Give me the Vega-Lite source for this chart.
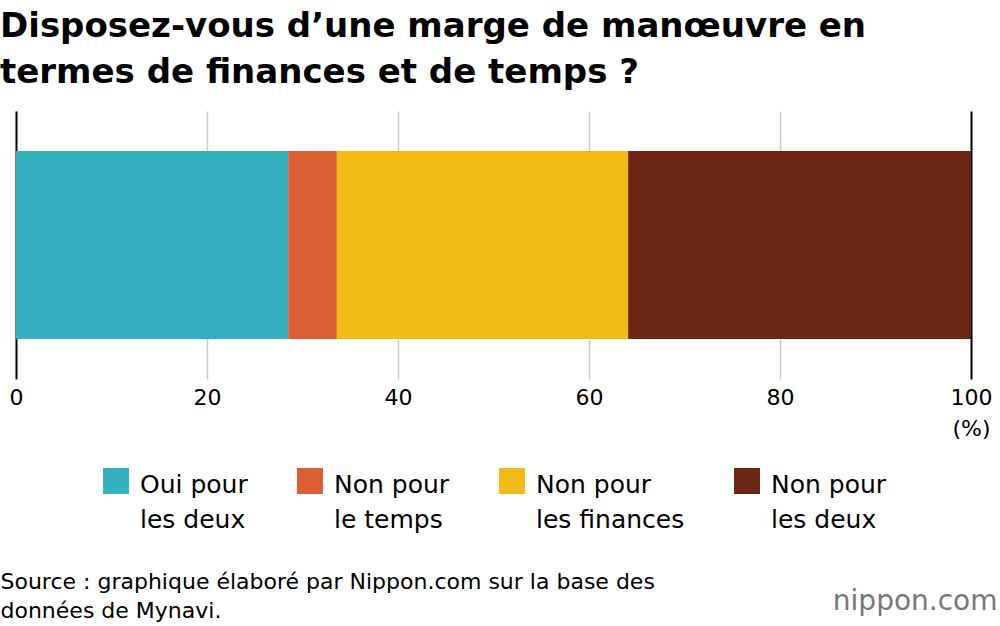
{
  "$schema": "https://vega.github.io/schema/vega-lite/v6.json",
  "width": 955,
  "height": 268,
  "autosize": {"type": "none"},
  "padding": {"left": 16, "top": 111, "right": 29, "bottom": 247},
  "background": "white",
  "title": {
    "text": ["Disposez-vous d’une marge de manœuvre en", "termes de finances et de temps ?"],
    "anchor": "start",
    "frame": "group",
    "dx": -16,
    "dy": -11,
    "font": "DejaVu Sans",
    "fontSize": 34,
    "fontWeight": "bold",
    "color": "black",
    "lineHeight": 46,
    "baseline": "top",
    "offset": 10
  },
  "data": {
    "values": [
      {"question": "marge", "category": "Oui pour les deux", "value": 28.5, "rank": 1},
      {"question": "marge", "category": "Non pour le temps", "value": 5.1, "rank": 2},
      {"question": "marge", "category": "Non pour les finances", "value": 30.5, "rank": 3},
      {"question": "marge", "category": "Non pour les deux", "value": 35.9, "rank": 4}
    ]
  },
  "mark": {"type": "bar"},
  "encoding": {
    "x": {
      "field": "value",
      "type": "quantitative",
      "stack": "zero",
      "scale": {"domain": [0, 100], "nice": false},
      "axis": {
        "values": [0, 20, 40, 60, 80, 100],
        "labelExpr": "datum.value == 100 ? ['100', '(%)'] : datum.label",
        "labelLineHeight": 31,
        "labelFont": "DejaVu Sans",
        "labelFontSize": 22,
        "labelColor": "black",
        "labelPadding": 8,
        "labelFlush": false,
        "domain": false,
        "ticks": false,
        "grid": true,
        "gridColor": {"condition": {"test": "datum.value == 0 || datum.value == 100", "value": "black"}, "value": "#cccccc"},
        "gridWidth": {"condition": {"test": "datum.value == 0 || datum.value == 100", "value": 2}, "value": 1.5},
        "title": ["Source : graphique élaboré par Nippon.com sur la base des", "données de Mynavi."],
        "titleFont": "DejaVu Sans",
        "titleFontSize": 22,
        "titleFontWeight": "normal",
        "titleColor": "black",
        "titleAlign": "left",
        "titleAnchor": "start",
        "titleBaseline": "alphabetic",
        "titleLineHeight": 29,
        "titleX": -16,
        "titleY": 209
      }
    },
    "y": {
      "field": "question",
      "type": "nominal",
      "scale": {"paddingInner": 0.175, "paddingOuter": 0.175},
      "axis": {
        "orient": "right",
        "labels": false,
        "ticks": false,
        "domain": false,
        "grid": false,
        "title": "nippon.com",
        "titleAngle": 0,
        "titleFont": "DejaVu Sans",
        "titleFontSize": 28,
        "titleFontWeight": "normal",
        "titleColor": "#777777",
        "titleAlign": "right",
        "titleBaseline": "alphabetic",
        "titleX": 26,
        "titleY": 498
      }
    },
    "color": {
      "field": "category",
      "type": "nominal",
      "sort": ["Oui pour les deux", "Non pour le temps", "Non pour les finances", "Non pour les deux"],
      "scale": {
        "domain": ["Oui pour les deux", "Non pour le temps", "Non pour les finances", "Non pour les deux"],
        "range": ["#34b0be", "#db5f33", "#f1bc16", "#692712"]
      },
      "legend": {
        "orient": "none",
        "direction": "horizontal",
        "legendX": 87,
        "legendY": 357,
        "padding": 0,
        "title": null,
        "symbolType": "square",
        "symbolSize": 676,
        "symbolStrokeWidth": 0,
        "symbolOpacity": 1,
        "labelFont": "DejaVu Sans",
        "labelFontSize": 25,
        "labelColor": "black",
        "labelLimit": 400,
        "labelOffset": 11,
        "labelBaseline": "top",
        "columnPadding": 49,
        "labelExpr": "datum.label == 'Oui pour les deux' ? ['Oui pour', 'les deux'] : datum.label == 'Non pour le temps' ? ['Non pour', 'le temps'] : datum.label == 'Non pour les finances' ? ['Non pour', 'les finances'] : ['Non pour', 'les deux']",
        "encode": {"labels": {"update": {"lineHeight": {"value": 35}, "dy": {"value": -8}}}}
      }
    },
    "order": {"field": "rank", "type": "quantitative"}
  },
  "config": {
    "view": {"stroke": null},
    "font": "DejaVu Sans"
  }
}
